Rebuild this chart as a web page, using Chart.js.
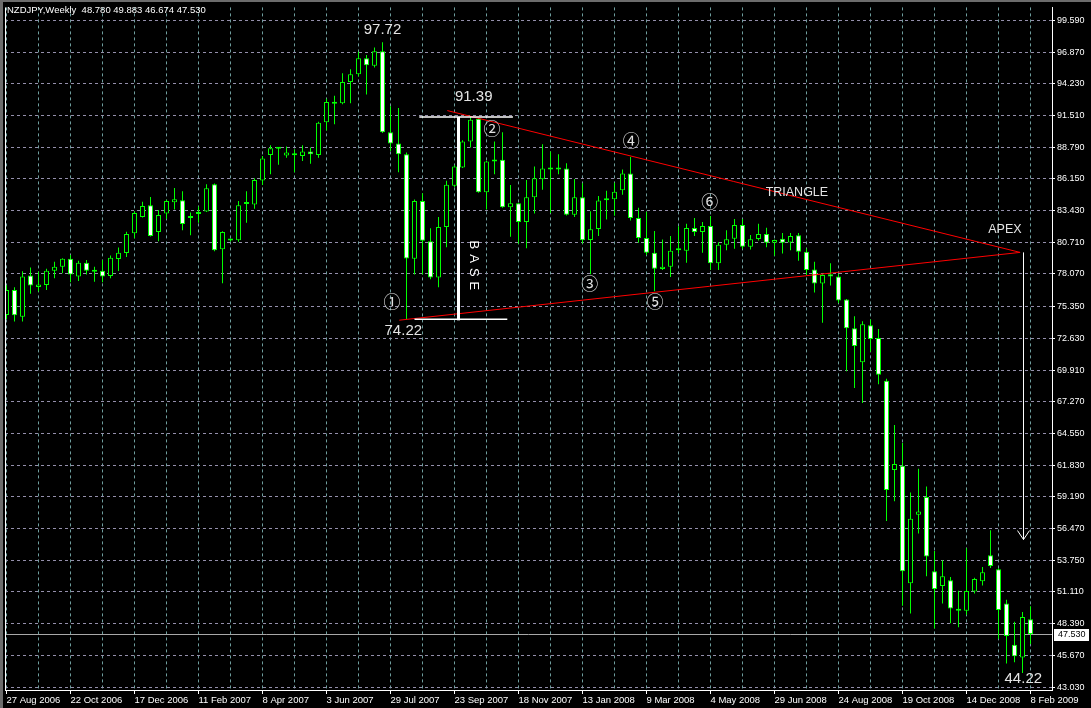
<!DOCTYPE html>
<html>
<head>
<meta charset="utf-8">
<script src="https://cdn.jsdelivr.net/npm/chart.js@4/dist/chart.umd.min.js"></script>
<style>
html, body { margin: 0; padding: 0; background: #000; overflow: hidden; }
canvas { display: block; }
</style>
</head>
<body>
<canvas id="myChart" width="1091" height="708"></canvas>
<script>
'use strict';

var symbol = 'NZDJPY,Weekly';

// weekly candles, 27 Aug 2006 .. 8 Feb 2009
var opens = [
  74.59, 76.72, 74.45, 77.93, 76.97, 77.14, 78.35, 78.69, 79.36, 77.85,
  79.03, 78.30, 78.35, 77.90, 79.33, 79.84, 81.52, 82.90, 83.91, 81.64,
  83.20, 84.16, 84.33, 82.98, 83.29, 83.37, 85.68, 80.17, 80.99, 80.93,
  84.00, 83.96, 86.01, 88.17, 88.72, 88.12, 88.17, 88.08, 88.46, 88.17,
  90.95, 92.66, 92.55, 94.35, 95.02, 96.37, 95.74, 96.96, 90.10, 89.13,
  88.23, 79.36, 84.27, 80.85, 77.77, 82.06, 85.56, 87.11, 89.30, 91.23,
  85.00, 87.61, 87.75, 83.74, 84.08, 82.48, 84.58, 86.10, 86.94, 87.11,
  87.02, 83.09, 84.58, 80.96, 81.89, 84.36, 84.41, 85.17, 86.60, 82.82,
  81.13, 79.87, 78.49, 78.69, 80.09, 80.04, 81.97, 81.64, 82.14, 78.97,
  80.54, 81.05, 82.23, 80.37, 81.03, 81.47, 80.71, 81.05, 80.74, 81.35,
  79.95, 78.44, 77.26, 78.04, 77.85, 75.91, 73.47, 70.58, 73.72, 72.63,
  69.01, 61.44, 61.80, 51.84, 57.65, 59.16, 52.85, 51.59, 52.09, 49.68,
  49.51, 51.13, 52.01, 54.20, 53.02, 50.12, 46.62, 45.53, 48.78
];
var highs = [
  77.12, 76.95, 78.30, 78.61, 78.27, 78.52, 79.11, 79.40, 79.67, 79.20,
  79.25, 78.69, 79.25, 79.64, 80.32, 81.66, 83.40, 84.19, 84.61, 83.49,
  84.36, 85.37, 85.09, 83.29, 83.79, 85.68, 85.75, 81.70, 81.07, 84.25,
  85.09, 86.18, 88.08, 88.99, 88.78, 88.88, 88.65, 88.99, 88.79, 90.98,
  92.94, 93.19, 95.10, 95.44, 96.92, 96.64, 97.29, 97.72, 92.29, 92.16,
  88.37, 84.38, 84.92, 81.94, 82.90, 85.98, 87.30, 89.41, 91.39, 91.30,
  87.65, 89.30, 90.10, 85.62, 84.10, 86.04, 87.19, 89.07, 88.46, 88.23,
  87.47, 86.12, 85.76, 83.40, 84.69, 85.14, 85.81, 86.94, 88.00, 83.68,
  83.35, 81.72, 80.99, 81.30, 82.11, 82.34, 82.82, 82.48, 82.98, 80.76,
  81.77, 82.73, 82.73, 81.38, 82.34, 82.00, 81.00, 81.55, 81.55, 81.55,
  80.23, 79.11, 78.05, 78.97, 78.07, 75.95, 74.48, 74.06, 74.20, 73.41,
  69.18, 65.25, 63.73, 59.53, 61.55, 60.03, 54.56, 53.78, 52.37, 51.19,
  54.81, 52.31, 53.21, 56.33, 53.10, 50.44, 48.56, 49.40, 49.883
];
var lows = [
  74.26, 74.03, 74.03, 76.39, 76.59, 76.72, 77.71, 78.13, 77.37, 77.48,
  78.02, 77.40, 77.37, 77.71, 78.32, 79.50, 81.10, 82.85, 81.25, 80.85,
  82.76, 83.54, 81.77, 81.35, 82.42, 83.33, 80.00, 77.29, 80.82, 80.80,
  82.42, 83.60, 85.62, 86.54, 87.33, 87.92, 86.69, 87.66, 87.41, 87.92,
  90.25, 90.78, 92.46, 92.55, 94.82, 93.30, 95.58, 90.02, 88.51, 86.69,
  74.22, 78.02, 78.02, 77.62, 76.95, 80.34, 85.45, 87.05, 88.79, 84.97,
  83.54, 86.54, 83.68, 81.22, 80.63, 80.26, 83.20, 85.22, 83.24, 86.54,
  83.03, 82.90, 80.65, 78.04, 81.30, 82.70, 83.01, 84.78, 82.61, 80.71,
  79.67, 76.61, 78.40, 77.82, 79.81, 79.03, 81.30, 79.87, 78.40, 78.40,
  80.09, 80.21, 80.21, 80.15, 80.90, 80.34, 79.62, 79.81, 80.09, 79.20,
  77.98, 76.50, 73.94, 77.09, 75.60, 69.82, 68.39, 67.13, 71.48, 68.72,
  57.11, 58.79, 49.93, 49.26, 56.05, 52.43, 47.99, 50.12, 48.44, 48.10,
  49.17, 50.97, 51.64, 53.13, 47.13, 45.02, 45.13, 44.22, 46.674
];
var closes = [
  76.70, 74.57, 77.85, 77.09, 77.18, 78.35, 78.69, 79.36, 78.02, 79.03,
  78.35, 78.25, 77.85, 79.45, 79.87, 81.47, 83.24, 83.83, 81.30, 83.07,
  84.25, 84.41, 82.31, 82.82, 83.15, 85.34, 80.09, 81.64, 80.90, 83.91,
  84.03, 86.04, 87.87, 88.73, 88.70, 88.37, 88.15, 88.46, 88.23, 90.90,
  92.66, 92.50, 94.35, 95.02, 96.37, 95.78, 96.96, 90.10, 89.13, 88.23,
  79.39, 84.27, 80.88, 77.77, 82.06, 85.64, 87.19, 89.30, 91.15, 85.00,
  87.61, 87.78, 83.74, 84.08, 82.48, 84.58, 86.18, 87.02, 87.11, 86.94,
  83.09, 84.58, 80.93, 81.86, 84.30, 84.33, 85.05, 86.60, 82.82, 81.13,
  79.87, 78.52, 78.69, 80.04, 80.12, 81.97, 81.64, 82.14, 78.97, 80.54,
  81.01, 82.23, 80.37, 81.01, 81.47, 80.71, 80.96, 80.71, 81.30, 79.95,
  78.40, 77.26, 77.98, 77.85, 75.83, 73.47, 71.96, 73.81, 72.55, 69.52,
  59.75, 61.94, 52.85, 57.31, 57.93, 54.11, 51.34, 52.43, 49.70, 49.51,
  51.17, 52.20, 52.77, 53.30, 49.57, 47.35, 45.64, 48.98, 47.53
];

// date labels, one every 8 weekly bars
var dateLabels = [
  '27 Aug 2006', '22 Oct 2006', '17 Dec 2006', '11 Feb 2007', '8 Apr 2007',
  '3 Jun 2007', '29 Jul 2007', '23 Sep 2007', '18 Nov 2007', '13 Jan 2008',
  '9 Mar 2008', '4 May 2008', '29 Jun 2008', '24 Aug 2008', '19 Oct 2008',
  '14 Dec 2008', '8 Feb 2009'
];
var priceTicks = [
  99.59, 96.87, 94.23, 91.51, 88.79, 86.15, 83.43, 80.71, 78.07, 75.35, 72.63,
  69.91, 67.27, 64.55, 61.83, 59.19, 56.47, 53.75, 51.11, 48.39, 45.67, 43.03
];
var bidPrice = 47.53;

// hand drawn objects, placed by bar number and price
var priceNotes = [
  { bar: 47.0, price: 98.75, text: '97.72', size: 15 },
  { bar: 58.4, price: 93.10, text: '91.39', size: 15 },
  { bar: 49.6, price: 73.24, text: '74.22', size: 15 },
  { bar: 127.1, price: 43.70, text: '44.22', size: 15 },
  { bar: 98.8, price: 84.94, text: 'TRIANGLE', size: 12.5 },
  { bar: 124.8, price: 81.83, text: 'APEX', size: 12.5 }
];
var pointNotes = [
  { bar: 48.2, price: 75.69, text: '①' },
  { bar: 60.7, price: 90.39, text: '②' },
  { bar: 72.9, price: 77.22, text: '③' },
  { bar: 78.1, price: 89.35, text: '④' },
  { bar: 81.05, price: 75.74, text: '⑤' },
  { bar: 87.9, price: 84.19, text: '⑥' }
];
var upperLine = [[55.1, 91.93], [126.7, 79.90]];
var lowerLine = [[49.1, 74.15], [126.7, 79.90]];
var baseTop = { from: 51.6, to: 63.3, price: 91.39 };
var baseBottom = { from: 51.0, to: 62.6, price: 74.22 };
var baseBar = 56.5;
var baseText = { bar: 58.4, price: 78.80, text: 'BASE' };
var apexArrow = { bar: 127.0, from: 79.90, to: 55.54 };

var gridBars = [];
for (var g = 0; g <= 128; g += 4) gridBars.push(g);

var UI_FONT = "'Liberation Sans', Arial, sans-serif";

var overlay = {
    id: 'overlay',
    beforeDraw: function (c) {
        var cx = c.ctx;
        cx.save();
        cx.fillStyle = '#000000';
        cx.fillRect(0, 0, c.width, c.height);
        cx.restore();
    },
    beforeDatasetsDraw: function (c) {
        var cx = c.ctx, a = c.chartArea, y = c.scales.y;
        var py = Math.round(y.getPixelForValue(bidPrice)) + 0.5;
        cx.save();
        cx.strokeStyle = '#a8a8a8';
        cx.lineWidth = 1;
        cx.beginPath();
        cx.moveTo(a.left, py);
        cx.lineTo(a.right, py);
        cx.stroke();
        cx.restore();
    },
    afterDatasetsDraw: function (c) {
        var cx = c.ctx, x = c.scales.x, y = c.scales.y;
        function px(b) { return x.getPixelForValue(b); }
        function py(p) { return y.getPixelForValue(p); }
        cx.save();

        // triangle
        cx.strokeStyle = '#ff0000';
        cx.lineWidth = 1;
        [upperLine, lowerLine].forEach(function (l) {
            cx.beginPath();
            cx.moveTo(px(l[0][0]), py(l[0][1]));
            cx.lineTo(px(l[1][0]), py(l[1][1]));
            cx.stroke();
        });

        // base
        cx.strokeStyle = '#ffffff';
        cx.lineWidth = 1.5;
        [baseTop, baseBottom].forEach(function (l) {
            cx.beginPath();
            cx.moveTo(px(l.from), py(l.price));
            cx.lineTo(px(l.to), py(l.price));
            cx.stroke();
        });
        cx.lineWidth = 3;
        cx.beginPath();
        cx.moveTo(px(baseBar), py(baseTop.price));
        cx.lineTo(px(baseBar), py(baseBottom.price) + 1);
        cx.stroke();

        // arrow to target
        var ax = Math.round(px(apexArrow.bar)) + 0.5;
        var ty = py(apexArrow.to);
        cx.lineWidth = 1;
        cx.beginPath();
        cx.moveTo(ax, py(apexArrow.from));
        cx.lineTo(ax, ty);
        cx.moveTo(ax - 6, ty - 9);
        cx.lineTo(ax, ty);
        cx.lineTo(ax + 6, ty - 9);
        cx.stroke();

        // texts
        cx.fillStyle = '#e4e4e4';
        cx.textAlign = 'center';
        cx.textBaseline = 'middle';
        priceNotes.forEach(function (n) {
            cx.font = n.size + 'px ' + UI_FONT;
            cx.fillText(n.text, px(n.bar), py(n.price));
        });
        cx.fillStyle = '#e0e0e0';
        cx.font = "17px 'Noto Sans CJK JP', 'DejaVu Sans', sans-serif";
        pointNotes.forEach(function (n) {
            cx.fillText(n.text, px(n.bar), py(n.price));
        });

        cx.fillStyle = '#ffffff';
        cx.font = '13px ' + UI_FONT;
        var bx = px(baseText.bar), by = py(baseText.price);
        cx.translate(bx, by);
        cx.rotate(Math.PI / 2);
        var letters = baseText.text.split('');
        letters.forEach(function (ch, i) {
            cx.fillText(ch, (i - (letters.length - 1) / 2) * 13.7, 0);
        });
        cx.restore();
    },
    afterDraw: function (c) {
        var cx = c.ctx, a = c.chartArea, y = c.scales.y;
        var last = opens.length - 1;
        cx.save();
        // window frame
        cx.fillStyle = '#6c6c6c';
        cx.fillRect(0, 0, c.width, 2);
        cx.fillRect(0, 0, 3, c.height);
        // left border of the chart
        cx.strokeStyle = '#ffffff';
        cx.lineWidth = 1;
        cx.beginPath();
        cx.moveTo(a.left + 0.5, a.top);
        cx.lineTo(a.left + 0.5, a.bottom);
        cx.stroke();

        // header
        cx.fillStyle = '#ffffff';
        cx.font = '9.5px ' + UI_FONT;
        cx.textAlign = 'left';
        cx.textBaseline = 'middle';
        cx.fillText(symbol + '  ' + opens[last].toFixed(3) + ' ' + highs[last].toFixed(3) + ' ' +
            lows[last].toFixed(3) + ' ' + closes[last].toFixed(3), 7, 10);

        // bid label
        var by = Math.round(y.getPixelForValue(bidPrice));
        cx.fillStyle = '#ffffff';
        cx.fillRect(a.right + 2, by - 5, 35, 12);
        cx.fillStyle = '#000000';
        cx.font = '9px ' + UI_FONT;
        cx.fillText(bidPrice.toFixed(3), a.right + 6, by + 1);
        cx.restore();
    }
};

var ctx = document.getElementById('myChart').getContext('2d');
var chart = new Chart(ctx, {
    type: 'bar',
    data: {
        datasets: [{
            label: 'Body',
            data: opens.map(function (o, i) {
                return { x: i, y: [Math.min(o, closes[i]), Math.max(o, closes[i])] };
            }),
            backgroundColor: opens.map(function (o, i) {
                return closes[i] < o ? '#ffffff' : '#000000';
            }),
            borderColor: '#00ff00',
            borderWidth: 1,
            borderSkipped: false,
            inflateAmount: 0,
            barThickness: 5,
            minBarLength: 2,
            grouped: false
        }, {
            label: 'Wick',
            data: lows.map(function (l, i) {
                return { x: i, y: [l, highs[i]] };
            }),
            backgroundColor: '#00ff00',
            borderWidth: 0,
            inflateAmount: 0,
            barThickness: 1,
            grouped: false
        }]
    },
    options: {
        responsive: false,
        animation: false,
        events: [],
        layout: { padding: { left: 5, top: 2, right: 0, bottom: 0 } },
        plugins: {
            legend: { display: false },
            tooltip: { enabled: false }
        },
        scales: {
            x: {
                type: 'linear',
                offset: false,
                min: -0.1875,
                max: 130.6875,
                afterBuildTicks: function (scale) {
                    scale.ticks = gridBars.map(function (v) { return { value: v }; });
                },
                afterFit: function (scale) { scale.height = 18; },
                grid: {
                    offset: false,
                    color: '#6f9e9e',
                    lineWidth: 1,
                    tickLength: 4,
                    tickColor: function (c) {
                        return c.tick && c.tick.value % 8 === 0 ? '#ffffff' : 'rgba(0,0,0,0)';
                    }
                },
                border: { display: true, color: '#ffffff', width: 1, dash: [3, 3] },
                ticks: {
                    color: '#ffffff',
                    font: { family: UI_FONT, size: 9.5 },
                    align: 'start',
                    padding: 1,
                    maxRotation: 0,
                    autoSkip: false,
                    callback: function (v) { return v % 8 === 0 ? dateLabels[v / 8] : ''; }
                }
            },
            y: {
                type: 'linear',
                position: 'right',
                min: 42.777,
                max: 100.684,
                afterBuildTicks: function (scale) {
                    scale.ticks = priceTicks.map(function (v) { return { value: v }; });
                },
                afterFit: function (scale) { scale.width = 39; },
                grid: {
                    color: '#948fab',
                    lineWidth: 1,
                    tickLength: 3,
                    tickColor: '#ffffff'
                },
                border: { display: true, color: '#ffffff', width: 1, dash: [3, 3] },
                ticks: {
                    color: '#ffffff',
                    font: { family: UI_FONT, size: 9 },
                    padding: 2,
                    autoSkip: false,
                    callback: function (v) { return v.toFixed(3); }
                }
            }
        }
    },
    plugins: [overlay]
});
</script>
</body>
</html>
